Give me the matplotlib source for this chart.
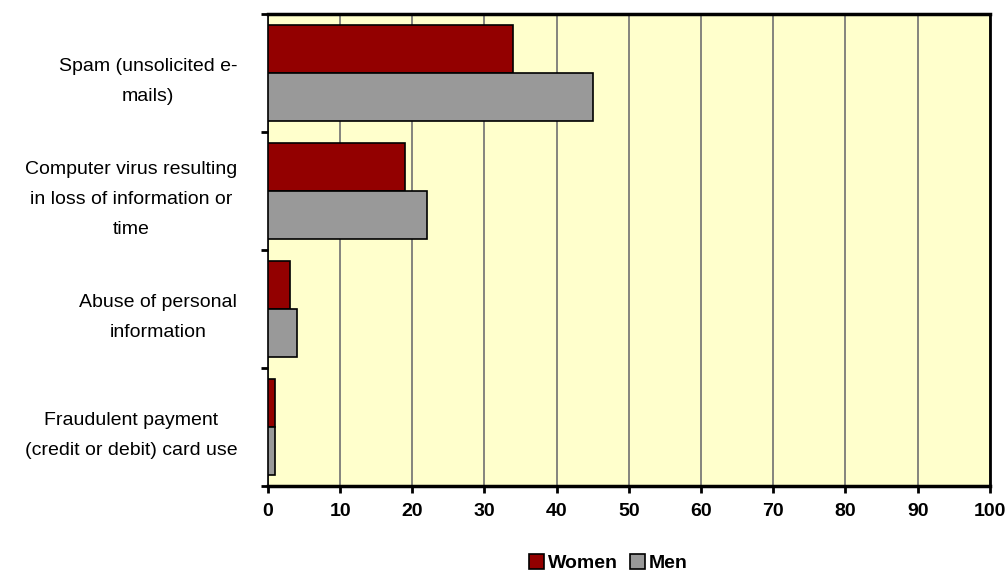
import matplotlib.pyplot as plt
import numpy as np

categories = ['Spam (unsolicited e-\nmails)',
              'Computer virus resulting\nin loss of information or\ntime',
              'Abuse of personal\ninformation',
              'Fraudulent payment\n(credit or debit) card use']
women = [34, 19, 3, 1]
men = [45, 22, 4, 1]
x_ticks = [0, 10, 20, 30, 40, 50, 60, 70, 80, 90, 100]

plt.rcParams['font.family'] = ['Liberation Sans', 'DejaVu Sans']

fig = plt.figure(figsize=(10.07, 5.75), dpi=100)
ax = fig.add_axes([0.266, 0.155, 0.717, 0.8205])
ax.set_facecolor('#FFFFCC')

pos = np.arange(len(categories))
h = 0.41
ax.barh(pos - h / 2, women, height=h, color='#930000', edgecolor='black', linewidth=1.2, label='Women', zorder=3)
ax.barh(pos + h / 2, men, height=h, color='#999999', edgecolor='black', linewidth=1.2, label='Men', zorder=3)

ax.set_xlim(0, 100)
ax.set_ylim(len(categories) - 0.5, -0.5)
ax.set_xticks(x_ticks)
ax.set_xticklabels([str(t) for t in x_ticks], fontsize=14, fontweight='bold')
ax.xaxis.grid(True, color='#707070', linewidth=1.2, zorder=0)
ax.tick_params(axis='x', direction='out', length=5, width=2, pad=7)

ax.set_yticks(pos)
ax.set_yticklabels(categories, fontsize=14, multialignment='center', linespacing=2.0)
ax.tick_params(axis='y', which='major', length=0, pad=22)
ax.set_yticks(np.arange(-0.5, len(categories), 1), minor=True)
ax.tick_params(axis='y', which='minor', direction='out', length=5, width=2)

ax.spines['bottom'].set_linewidth(2.5)
ax.spines['top'].set_linewidth(2.5)
ax.spines['right'].set_linewidth(2)
ax.spines['left'].set_linewidth(1.2)

leg = fig.legend(loc='center', bbox_to_anchor=(0.604, 0.021), ncol=2, frameon=False,
                 handlelength=0.8, handleheight=0.8, handletextpad=0.2, columnspacing=0.6,
                 prop={'weight': 'bold', 'size': 14})

plt.savefig('out.png', dpi=100)
